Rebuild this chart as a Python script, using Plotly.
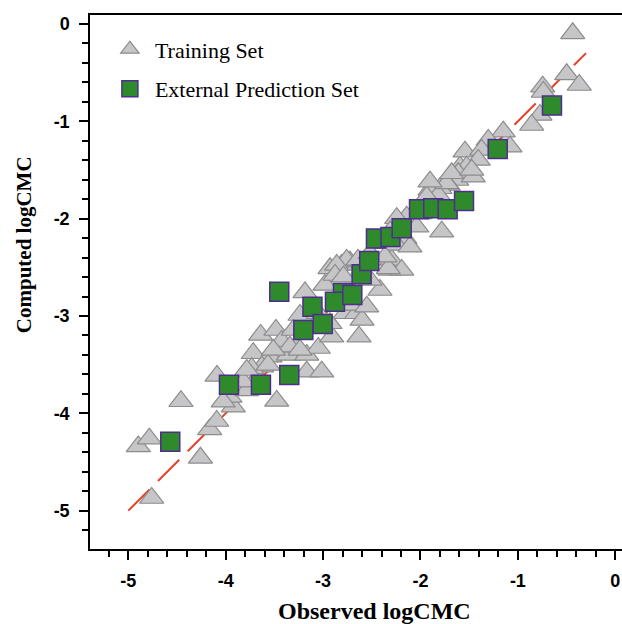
import plotly.graph_objects as go

# Training set (observed, computed)
train_obs = [-4.897, -4.784, -4.459, -4.760, -4.259, -4.164, -4.092, -3.922, -3.956, -4.089,
             -3.784, -3.682, -3.476, -4.025, -3.641, -3.484, -3.425, -3.717, -3.545, -3.357,
             -3.168, -3.049, -3.630, -3.733, -3.168, -3.014, -3.237, -3.186, -2.981, -2.929,
             -2.809, -2.724, -3.049, -2.775, -2.912, -2.631, -3.289, -2.416, -2.518, -2.313,
             -2.296, -2.655, -2.724, -1.594, -1.628, -1.715, -1.800, -1.902, -1.817, -1.936,
             -1.782, -2.005, -2.142, -2.244, -2.313, -2.039, -2.159, -2.416, -2.193, -2.331,
             -2.758, -2.860, -2.642, -1.150, -1.304, -1.081, -1.543, -1.372, -1.407, -1.526,
             -1.612, -1.458, -1.731, -0.437, -0.499, -0.370, -0.745, -0.739, -0.773, -0.858,
             -3.565, -3.341, -3.511, -3.237, -3.818, -3.306, -2.929, -2.600, -2.552, -2.621,
             -2.877, -2.791, -2.518, -1.902, -1.680, -2.244, -2.108, -2.364, -1.474, -3.784]
train_calc = [-4.340, -4.260, -3.876, -4.870, -4.457, -4.166, -4.079, -3.932, -3.832, -3.616,
              -3.765, -3.640, -3.873, -3.880, -3.195, -3.144, -3.257, -3.383, -3.418, -3.400,
              -3.400, -3.329, -3.521, -3.537, -3.572, -3.572, -2.990, -2.758, -2.681, -2.510,
              -2.476, -2.442, -2.972, -2.972, -3.212, -3.212, -3.315, -2.733, -2.630, -2.527,
              -2.424, -2.972, -2.887, -1.466, -1.603, -1.654, -1.688, -1.705, -1.757, -1.774,
              -2.134, -1.945, -1.980, -1.996, -2.134, -2.082, -2.202, -2.253, -2.527, -2.510,
              -2.424, -2.476, -2.424, -1.106, -1.192, -1.261, -1.312, -1.294, -1.397, -1.466,
              -1.534, -1.569, -1.637, -0.096, -0.517, -0.627, -0.644, -0.699, -0.935, -1.038,
              -3.503, -3.315, -3.349, -3.349, -3.675, -3.144, -3.075, -3.041, -2.904, -2.561,
              -2.579, -2.596, -2.356, -1.620, -1.534, -2.270, -2.288, -2.391, -1.500, -3.555]

# External prediction set (observed, computed)
ext_obs = [-2.796, -4.569, -3.966, -3.638, -3.347, -3.450, -3.203, -3.109, -3.004, -2.878, -2.700,
           -2.604, -2.526, -2.457, -2.308, -2.193, -2.015, -1.869, -1.721, -1.553, -1.207, -0.650]
ext_calc = [-2.764, -4.291, -3.706, -3.706, -3.606, -2.750, -3.144, -2.904, -3.082, -2.853, -2.784,
            -2.571, -2.435, -2.204, -2.188, -2.099, -1.904, -1.893, -1.904, -1.818, -1.284, -0.839]

# ideal line
line_x = [-5.0, -0.3]
line_y = [-5.0, -0.3]

tick_vals = [-5, -4, -3, -2, -1, 0]
tick_text = ["-5", "-4", "-3", "-2", "-1", "0"]

fig = go.Figure()
fig.add_trace(go.Scatter(x=line_x, y=line_y, mode="lines", showlegend=False,
                         line=dict(color="#e8402a", width=2, dash="30px,12px"),
                         hoverinfo="skip"))
fig.add_trace(go.Scatter(x=train_obs, y=train_calc, mode="markers", name="Training Set",
                         legendgroup="a",
                         marker=dict(symbol="triangle-up", size=21, color="#c6c6c8",
                                     line=dict(color="#8c8c8c", width=1.2))))
fig.add_trace(go.Scatter(x=ext_obs, y=ext_calc, mode="markers", name="External Prediction Set",
                         legendgroup="b",
                         marker=dict(symbol="square", size=19, color="#2f8a2c",
                                     line=dict(color="#4f2d8f", width=1.5))))

axis_common = dict(
    showline=True, linecolor="black", linewidth=1.5, showgrid=False, zeroline=False,
    ticks="outside", ticklen=9, tickwidth=1.5, tickcolor="black",
    tickvals=tick_vals, ticktext=tick_text,
    tickfont=dict(family="Liberation Sans, Arial, sans-serif", size=18, color="black", weight="bold"),
    minor=dict(dtick=0.2, tick0=0, ticks="outside", ticklen=6, tickwidth=1.5, tickcolor="black"),
)

fig.update_layout(
    width=622, height=624,
    margin=dict(l=90, r=0, t=15, b=75),
    plot_bgcolor="white", paper_bgcolor="white",
    xaxis=dict(range=[-5.393, 0.069], mirror=True, ticklabelstandoff=6, automargin=False, **axis_common),
    yaxis=dict(range=[-5.394, 0.092], mirror=False, ticklabelstandoff=6, automargin=False, **axis_common),
    legend=dict(x=0.028, y=0.975, xanchor="left", yanchor="top", bgcolor="rgba(0,0,0,0)",
                itemwidth=40, tracegroupgap=8,
                font=dict(family="Liberation Serif, Times New Roman, serif", size=22, color="black")),
    showlegend=True,
    annotations=[
        dict(text="Observed logCMC", xref="paper", yref="paper", x=0.534, y=-0.116,
             xanchor="center", yanchor="middle", showarrow=False,
             font=dict(family="Liberation Serif, Times New Roman, serif", size=24, color="black", weight="bold")),
        dict(text="Computed logCMC", xref="paper", yref="paper", x=-0.124, y=0.569,
             xanchor="center", yanchor="middle", showarrow=False, textangle=-90,
             font=dict(family="Liberation Serif, Times New Roman, serif", size=21, color="black", weight="bold")),
    ],
)

fig.write_html("out.html", config={"displayModeBar": False},
               post_script="document.body.style.margin='0';document.body.style.overflow='hidden';")
